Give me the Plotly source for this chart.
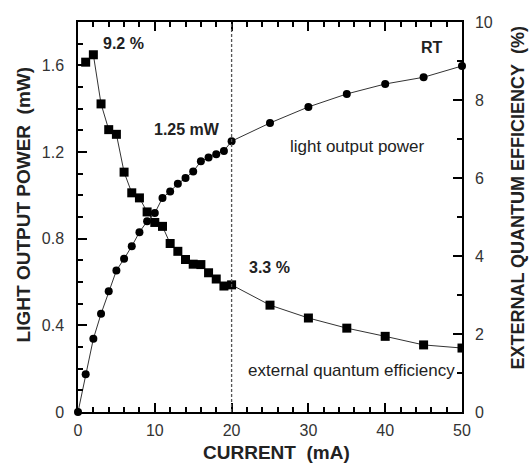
import plotly.graph_objects as go

# Light output power (mW) vs current (mA)
current_p = [0, 1, 2, 3, 4, 5, 6, 7, 8, 9, 10, 11, 12, 13, 14, 15, 16, 17, 18, 19, 20,
             25, 30, 35, 40, 45, 50]
power_mw = [0, 0.174, 0.338, 0.453, 0.557, 0.653, 0.707, 0.765, 0.83, 0.88, 0.918,
            0.988, 1.018, 1.053, 1.08, 1.11, 1.157, 1.175, 1.19, 1.205, 1.25,
            1.334, 1.408, 1.468, 1.514, 1.545, 1.597]

# External quantum efficiency (%) vs current (mA)
current_e = [1, 2, 3, 4, 5, 6, 7, 8, 9, 10, 11, 12, 13, 14, 15, 16, 17, 18, 19, 20,
             25, 30, 35, 40, 45, 50]
eff_pct = [8.97, 9.16, 7.9, 7.24, 7.12, 6.15, 5.62, 5.49, 5.13, 4.86, 4.76, 4.32,
           4.12, 3.91, 3.79, 3.78, 3.57, 3.41, 3.23, 3.26,
           2.74, 2.41, 2.15, 1.94, 1.72, 1.64]

# Axis ticks
x_major = [0, 10, 20, 30, 40, 50]
y_major = [0, 0.4, 0.8, 1.2, 1.6]
y_major_text = ["0", "0.4", "0.8", "1.2", "1.6"]
y2_major = [0, 2, 4, 6, 8, 10]

X_RANGE = [0, 50]
Y_RANGE = [0, 1.8]
Y2_RANGE = [0, 10]

FONT = "Liberation Sans, Arial, sans-serif"
TXT = "#222222"

fig = go.Figure()
fig.add_trace(go.Scatter(
    x=current_e, y=eff_pct, yaxis="y2", mode="lines+markers",
    line=dict(color="#333333", width=1),
    marker=dict(symbol="square", size=9, color="black"),
    showlegend=False))
fig.add_trace(go.Scatter(
    x=current_p, y=power_mw, mode="lines+markers",
    line=dict(color="#333333", width=1),
    marker=dict(symbol="circle", size=8, color="black"),
    showlegend=False, cliponaxis=False))

fig.add_shape(type="line", x0=20, x1=20, y0=Y_RANGE[0], y1=Y_RANGE[1], xref="x", yref="y",
              line=dict(color="#555555", width=1.3, dash="3px,2px"))

ann_bold = dict(font=dict(family=FONT, size=16, color=TXT), showarrow=False,
                xref="x", yref="y")
ann_norm = dict(font=dict(family=FONT, size=17, color=TXT), showarrow=False,
                xref="x", yref="y")
fig.add_annotation(text="<b>9.2 %</b>", x=5.9, y=1.70, **ann_bold)
fig.add_annotation(text="<b>1.25 mW</b>", x=18.8, y=1.304, xanchor="right", **ann_bold)
fig.add_annotation(text="light output power", x=36.4, y=1.225, **ann_norm)
fig.add_annotation(text="<b>RT</b>", x=46.1, y=1.683, **ann_bold)
fig.add_annotation(text="<b>3.3 %</b>", x=24.9, y=0.665, **ann_bold)
fig.add_annotation(text="external quantum efficiency", x=35.6, y=0.19, **ann_norm)

# axis titles
fig.add_annotation(text="<b>LIGHT OUTPUT POWER&nbsp;&nbsp;(mW)</b>", xref="paper", yref="paper",
                   x=-0.143, y=0.53, xanchor="center", yanchor="middle",
                   textangle=-90, showarrow=False,
                   font=dict(family=FONT, size=19, color=TXT))
fig.add_annotation(text="<b>EXTERNAL QUANTUM EFFICIENCY&nbsp;&nbsp;(%)</b>", xref="paper",
                   yref="paper", x=1.146, y=0.55, xanchor="center", yanchor="middle",
                   textangle=-90, showarrow=False,
                   font=dict(family=FONT, size=18, color=TXT))
fig.add_annotation(text="<b>CURRENT&nbsp;&nbsp;(mA)</b>", xref="paper", yref="paper",
                   x=0.518, y=-0.105, xanchor="center", yanchor="middle",
                   showarrow=False, font=dict(family=FONT, size=19, color=TXT))

minor_common = dict(ticks="inside", ticklen=5, tickcolor="black", tickwidth=1.5)
axis_common = dict(showline=True, linecolor="black", linewidth=1.5, showgrid=False,
                   zeroline=False, ticks="inside", ticklen=9, tickwidth=1.5,
                   tickcolor="black",
                   tickfont=dict(family=FONT, size=16, color="#333333"))

fig.update_layout(
    width=531, height=463,
    margin=dict(l=78, r=69, t=22, b=51),
    paper_bgcolor="white", plot_bgcolor="white",
    xaxis=dict(range=X_RANGE, tickvals=x_major, mirror="ticks", ticklabelstandoff=3,
               minor=dict(dtick=2, **minor_common), **axis_common),
    yaxis=dict(range=Y_RANGE, tickvals=y_major, ticktext=y_major_text,
               minor=dict(dtick=0.1, **minor_common),
               ticklabelstandoff=9, **axis_common),
    yaxis2=dict(range=Y2_RANGE, tickvals=y2_major, overlaying="y", side="right",
                minor=dict(dtick=1, **minor_common),
                ticklabelstandoff=8, **axis_common),
)

fig.write_html("out.html")
